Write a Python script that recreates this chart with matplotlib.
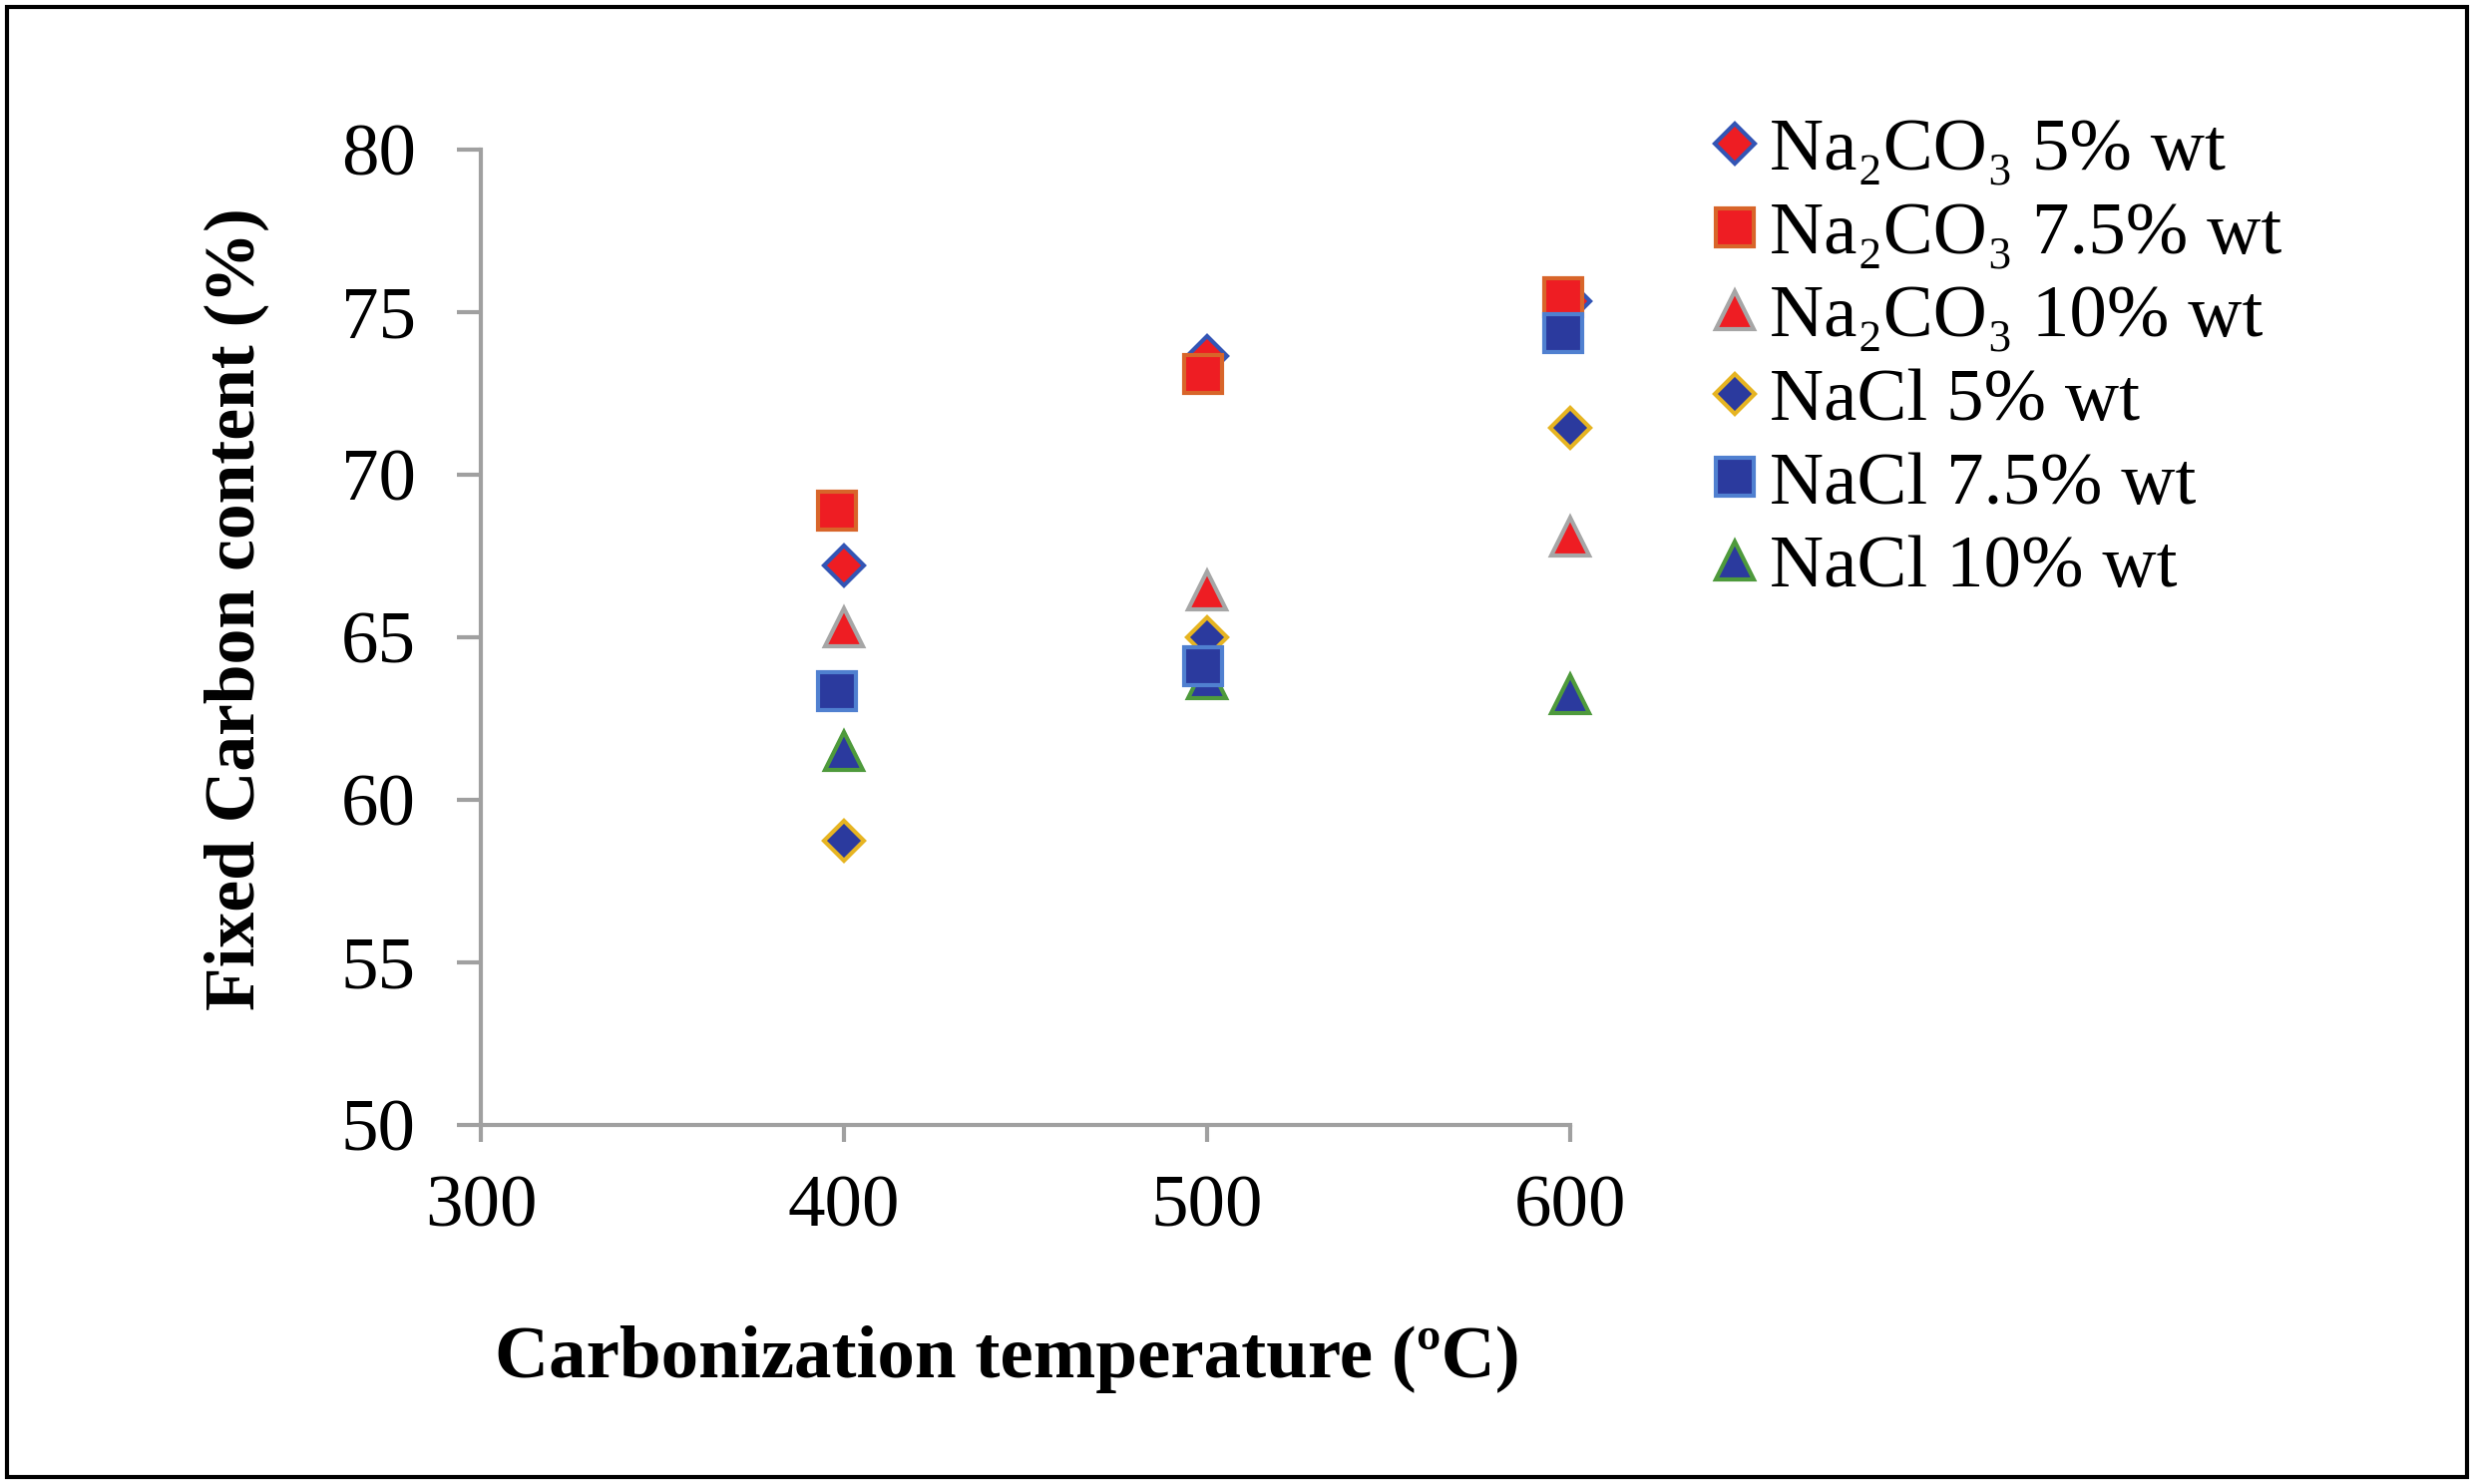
import matplotlib
matplotlib.use("Agg")
import matplotlib.pyplot as plt
from matplotlib.patches import Rectangle

plt.rcParams['font.family'] = ['Liberation Serif', 'DejaVu Serif']

# ---- data ----
temps = [400, 500, 600]
x_sq = [398, 499, 598]          # square markers sit slightly left in the source
na2co3_5 = [67.2, 73.65, 75.35]
na2co3_75 = [68.9, 73.1, 75.45]
na2co3_10 = [65.3, 66.45, 68.1]
nacl_5 = [58.75, 65.0, 71.45]
nacl_75 = [63.35, 64.1, 74.35]
nacl_10 = [61.5, 63.7, 63.25]

labels = ['Na₂CO₃ 5% wt', 'Na₂CO₃ 7.5% wt', 'Na₂CO₃ 10% wt',
          'NaCl 5% wt', 'NaCl 7.5% wt', 'NaCl 10% wt']
xticks = [300, 400, 500, 600]
yticks = [50, 55, 60, 65, 70, 75, 80]

RED = '#EE1D23'
DBLUE = '#2B3A9E'

fig = plt.figure(figsize=(24.8, 14.88), dpi=100)
ax = fig.add_axes([482/2480, 1-1128/1488, 1092/2480, 978/1488])

mew = 3
series = [
    (temps, na2co3_5, 'D', 20, RED, '#3355B5', labels[0]),
    (x_sq, na2co3_75, 's', 28, RED, '#D8652A', labels[1]),
    (temps, na2co3_10, '^', 28, RED, '#A6A6A6', labels[2]),
    (temps, nacl_5, 'D', 20, DBLUE, '#E6B422', labels[3]),
    (x_sq, nacl_75, 's', 28, DBLUE, '#5080D0', labels[4]),
    (temps, nacl_10, '^', 28, DBLUE, '#4E9A3C', labels[5]),
]
handles = []
for xs, ys, m, ms, fc, ec, lab in series:
    h, = ax.plot(xs, ys, linestyle='none', marker=m, markersize=ms,
                 markerfacecolor=fc, markeredgecolor=ec, markeredgewidth=mew,
                 label=lab, clip_on=False, zorder=3)
    handles.append(h)
handles[1].set_zorder(4)
handles[4].set_zorder(4)

ax.set_xlim(300, 600)
ax.set_ylim(50, 80)
ax.set_xticks(xticks)
ax.set_yticks(yticks)
for s in ['top', 'right']:
    ax.spines[s].set_visible(False)
for s in ['left', 'bottom']:
    ax.spines[s].set_color('#A0A0A0')
    ax.spines[s].set_linewidth(3)
ax.tick_params(axis='y', direction='out', length=17, width=3, color='#A0A0A0',
               labelsize=54, pad=30)
ax.tick_params(axis='x', direction='out', length=12, width=3, color='#A0A0A0',
               labelsize=54, pad=24)

ax.set_xlabel('Carbonization temperature (ºC)', fontsize=54, fontweight='bold')
ax.xaxis.set_label_coords(0.483, -0.240)
ax.xaxis.label.set_va('center')
ax.set_ylabel('Fixed Carbon content (%)', fontsize=51.5, fontweight='bold')
ax.yaxis.set_label_coords(-0.2244, 0.5286)
ax.yaxis.label.set_va('center')

leg = fig.legend(handles=handles, loc='upper left', bbox_to_anchor=(1716/2480, 1-118/1488),
                 frameon=False, fontsize=54, handlelength=0.62, handletextpad=0.15,
                 labelspacing=0.2, borderaxespad=0, borderpad=0, numpoints=1)

# outer frame
fig.patches.append(Rectangle((7/2480, 7/1488), 1-14/2480, 1-14/1488,
                             transform=fig.transFigure, fill=False,
                             edgecolor='black', linewidth=3))

fig.savefig('out.png', dpi=100)
